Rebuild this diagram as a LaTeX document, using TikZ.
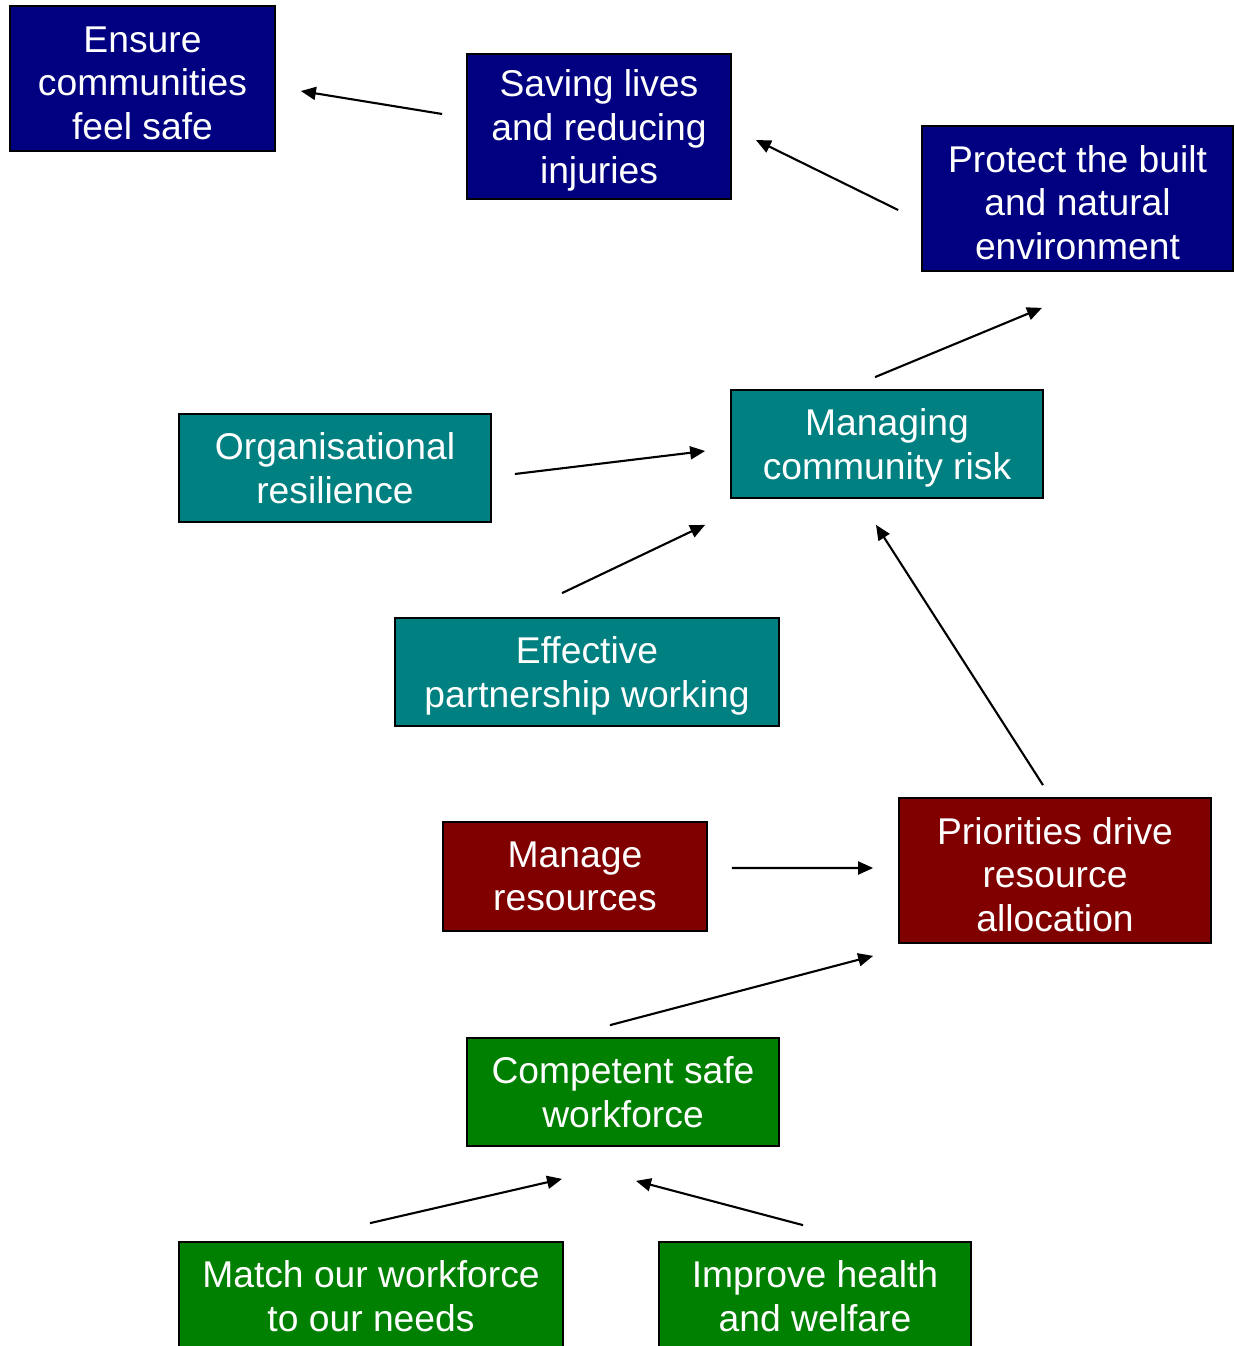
\documentclass[tikz,border=0pt]{standalone}
\usepackage{fontspec}
\setmainfont{Liberation Sans}
\usepackage{tikz}
\usetikzlibrary{arrows.meta}

\definecolor{boxnavy}{RGB}{0,0,128}
\definecolor{boxteal}{RGB}{0,128,128}
\definecolor{boxmaroon}{RGB}{128,0,0}
\definecolor{boxgreen}{RGB}{0,128,0}

% a taller first line pushes the text a little down in its box
\newcommand{\lowline}{\rule{0pt}{0.35cm}}

\begin{document}
\begin{tikzpicture}[
  box/.style={shape=rectangle, draw=black, line width=0.5pt, text=white, align=center, inner sep=0pt,
    font=\fontsize{10.6}{12.35}\selectfont},
  navybox/.style={box, fill=boxnavy},
  tealbox/.style={box, fill=boxteal},
  maroonbox/.style={box, fill=boxmaroon},
  greenbox/.style={box, fill=boxgreen},
  arr/.style={-{Triangle[length=0.15cm,width=0.13cm]}, line width=0.6pt}
]
\clip (0,0) rectangle (12.34,-13.46);

\node (ensure) at (1.425,-0.785) [navybox, minimum width=2.65cm, minimum height=1.45cm] {\lowline Ensure\\communities\\feel safe};
\node (saving) at (5.99,-1.265) [navybox, minimum width=2.64cm, minimum height=1.45cm] {\lowline Saving lives\\and reducing\\injuries};
\node (protect) at (10.775,-1.985) [navybox, minimum width=3.11cm, minimum height=1.45cm] {\lowline Protect the built\\and natural\\environment};

\node (org) at (3.35,-4.68) [tealbox, minimum width=3.12cm, minimum height=1.08cm] {Organisational\\resilience};
\node (managing) at (8.87,-4.44) [tealbox, minimum width=3.12cm, minimum height=1.08cm] {\lowline Managing\\community risk};
\node (effective) at (5.87,-6.72) [tealbox, minimum width=3.84cm, minimum height=1.08cm] {\lowline Effective\\partnership working};

\node (resources) at (5.75,-8.765) [maroonbox, minimum width=2.64cm, minimum height=1.09cm] {Manage\\resources};
\node (priorities) at (10.55,-8.705) [maroonbox, minimum width=3.12cm, minimum height=1.45cm] {\lowline Priorities drive\\resource\\allocation};

\node (competent) at (6.23,-10.92) [greenbox, minimum width=3.12cm, minimum height=1.08cm] {Competent safe\\workforce};
\node (match) at (3.71,-12.96) [greenbox, minimum width=3.84cm, minimum height=1.08cm] {Match our workforce\\to our needs};
\node (improve) at (8.15,-12.96) [greenbox, minimum width=3.12cm, minimum height=1.08cm] {Improve health\\and welfare};

\draw [arr] ([shift={(-0.24,0.125)}]saving.west) -- ([shift={(0.25,-0.125)}]ensure.east);
\draw [arr] ([shift={(-0.23,-0.115)}]protect.west) -- ([shift={(0.24,-0.135)}]saving.east);
\draw [arr] ([shift={(-0.12,0.12)}]managing.north) -- ([shift={(-0.355,-0.36)}]protect.south);
\draw [arr] ([shift={(0.23,-0.06)}]org.east) -- ([shift={(-0.25,-0.07)}]managing.west);
\draw [arr] ([shift={(-0.25,0.24)}]effective.north) -- ([shift={(-0.25,-0.26)}]managing.south west);
\draw [arr] ([shift={(-0.12,0.12)}]priorities.north) -- ([shift={(-0.11,-0.26)}]managing.south);
\draw [arr] ([shift={(0.24,0.085)}]resources.east) -- ([shift={(-0.25,0.025)}]priorities.west);
\draw [arr] ([shift={(-0.13,0.12)}]competent.north) -- ([shift={(-0.25,-0.12)}]priorities.south west);
\draw [arr] ([shift={(-0.01,0.18)}]match.north) -- ([shift={(-0.61,-0.32)}]competent.south);
\draw [arr] ([shift={(-0.12,0.16)}]improve.north) -- ([shift={(0.13,-0.34)}]competent.south);
\end{tikzpicture}
\end{document}
